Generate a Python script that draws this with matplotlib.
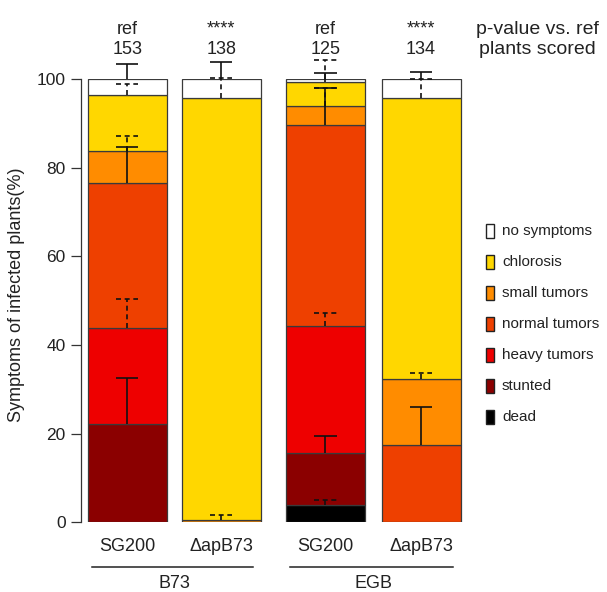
import matplotlib
matplotlib.use("Agg")
import matplotlib.pyplot as plt
import numpy as np
from matplotlib.transforms import blended_transform_factory
from matplotlib.patches import Rectangle

plt.rcParams['font.family'] = ['Liberation Sans', 'DejaVu Sans']

# ---------------- data ----------------
categories = ["dead", "stunted", "heavy tumors", "normal tumors", "small tumors", "chlorosis", "no symptoms"]
strains = ["SG200", "\u0394apB73", "SG200", "\u0394apB73"]
groups = ["B73", "EGB"]
pvalues = ["ref", "****", "ref", "****"]
plants_scored = ["153", "138", "125", "134"]

# percentages per category (bottom -> top), one list per bar
bar1_values = [0.0, 22.1, 21.8, 32.7, 7.2, 12.7, 3.5]
bar2_values = [0.0, 0.0, 0.0, 0.0, 0.5, 95.2, 4.3]
bar3_values = [3.9, 11.7, 28.6, 45.4, 4.2, 5.6, 0.6]
bar4_values = [0.0, 0.0, 0.0, 17.4, 14.9, 63.4, 4.3]

# upward error (percentage points) at the top of each segment; nan = none
bar1_err = [np.nan, 10.4, 6.4, 8.1, 3.4, 2.4, 3.4]
bar2_err = [np.nan, np.nan, np.nan, np.nan, 1.1, 4.5, 3.9]
bar3_err = [1.2, 3.9, 3.1, 8.4, 4.2, 1.9, 4.3]
bar4_err = [np.nan, np.nan, np.nan, 8.5, 1.4, 4.3, 1.5]

# ---------------- styles ----------------
colors = ["#000000", "#8B0000", "#EE0000", "#EE4000", "#FF8C00", "#FFD700", "#FFFFFF"]
# dashed (True) / solid (False) error bar style per segment
bar1_dash = [False, False, True, False, True, True, False]
bar2_dash = [False, False, False, False, True, True, False]
bar3_dash = [True, False, True, False, True, False, True]
bar4_dash = [False, False, False, False, True, True, False]

positions = [0.0, 1.19, 2.51, 3.72]
bar_width = 1.0

all_values = [bar1_values, bar2_values, bar3_values, bar4_values]
all_err = [bar1_err, bar2_err, bar3_err, bar4_err]
all_dash = [bar1_dash, bar2_dash, bar3_dash, bar4_dash]

W, H = 607, 592
fig = plt.figure(figsize=(W / 100, H / 100), dpi=100)

def fx(px):
    return px / W

def fy(py):
    return 1 - py / H

ax_left, ax_right = 81, 470
ax_top, ax_bottom = 79, 522.3
ax = fig.add_axes([fx(ax_left), fy(ax_bottom), fx(ax_right - ax_left), (ax_bottom - ax_top) / H])

x_per_px = 1 / 79.0
ax.set_xlim((ax_left - 127.2) * x_per_px, (ax_right - 127.2) * x_per_px)
ax.set_ylim(0, 100)

edge = "#3a3a3a"
for pos, vals in zip(positions, all_values):
    bottom = 0.0
    for v, c in zip(vals, colors):
        if v > 0:
            ax.bar(pos, v, width=bar_width, bottom=bottom, color=c, edgecolor=edge,
                   linewidth=0.9, zorder=2)
        bottom += v

cap_half = 0.14
for pos, vals, errs, dashes in zip(positions, all_values, all_err, all_dash):
    tops = np.cumsum(vals)
    for top, e, d in zip(tops, errs, dashes):
        if np.isnan(e):
            continue
        ls = (0, (3.0, 2.2)) if d else "-"
        ax.vlines(pos, top, top + e, colors="#111111", linestyles=[ls], linewidth=1.2,
                  zorder=4, clip_on=False)
        ax.hlines(top + e, pos - cap_half, pos + cap_half, colors="#111111", linestyles=[ls],
                  linewidth=1.2, zorder=4, clip_on=False)

# axes styling (R-like)
for s in ["top", "right", "bottom"]:
    ax.spines[s].set_visible(False)
ax.spines["left"].set_bounds(0, 100)
ax.spines["left"].set_color("#333333")
ax.spines["left"].set_linewidth(0.9)
ax.set_yticks([0, 20, 40, 60, 80, 100])
ax.tick_params(axis="y", length=7, width=0.9, color="#333333", labelsize=12.5, pad=4,
               labelcolor="#222222")
ax.set_xticks([])

fig.text(fx(17), fy(295), "Symptoms of infected plants(%)", rotation=90,
         ha="center", va="center", fontsize=13, color="#222222")

trans = blended_transform_factory(ax.transData, fig.transFigure)

# strain labels and group lines
for pos, s in zip(positions, strains):
    ax.text(pos, fy(546.5), s, transform=trans, ha="center", va="center",
            fontsize=13, color="#222222")
for i, g in enumerate(groups):
    p0, p1 = positions[2 * i], positions[2 * i + 1]
    ax.plot([p0 - 0.45, p1 + 0.40], [fy(567), fy(567)], transform=trans,
            color="#222222", linewidth=1.1, clip_on=False)
    ax.text((p0 + p1) / 2, fy(583), g, transform=trans, ha="center", va="center",
            fontsize=13, color="#222222")

# top annotation rows
for pos, pv, n in zip(positions, pvalues, plants_scored):
    ax.text(pos, fy(33.5), pv, transform=trans, ha="center", va="baseline",
            fontsize=13, color="#222222")
    ax.text(pos, fy(53.5), n, transform=trans, ha="center", va="baseline",
            fontsize=13, color="#222222")
fig.text(fx(537), fy(33.5), "p-value vs. ref", ha="center", va="baseline",
         fontsize=14, color="#222222")
fig.text(fx(537), fy(53.5), "plants scored", ha="center", va="baseline",
         fontsize=14, color="#222222")

# legend (top -> bottom)
row0, row_step = 231, 31
for k, (cat, c) in enumerate(zip(categories[::-1], colors[::-1])):
    yc = row0 + k * row_step
    fig.patches.append(Rectangle((fx(486), fy(yc + 7)), fx(7.5), 14 / H,
                                 transform=fig.transFigure, facecolor=c,
                                 edgecolor="#222222", linewidth=1.0))
    fig.text(fx(502), fy(yc), cat, ha="left", va="center", fontsize=11, color="#222222")

fig.savefig("out.png", dpi=100)
